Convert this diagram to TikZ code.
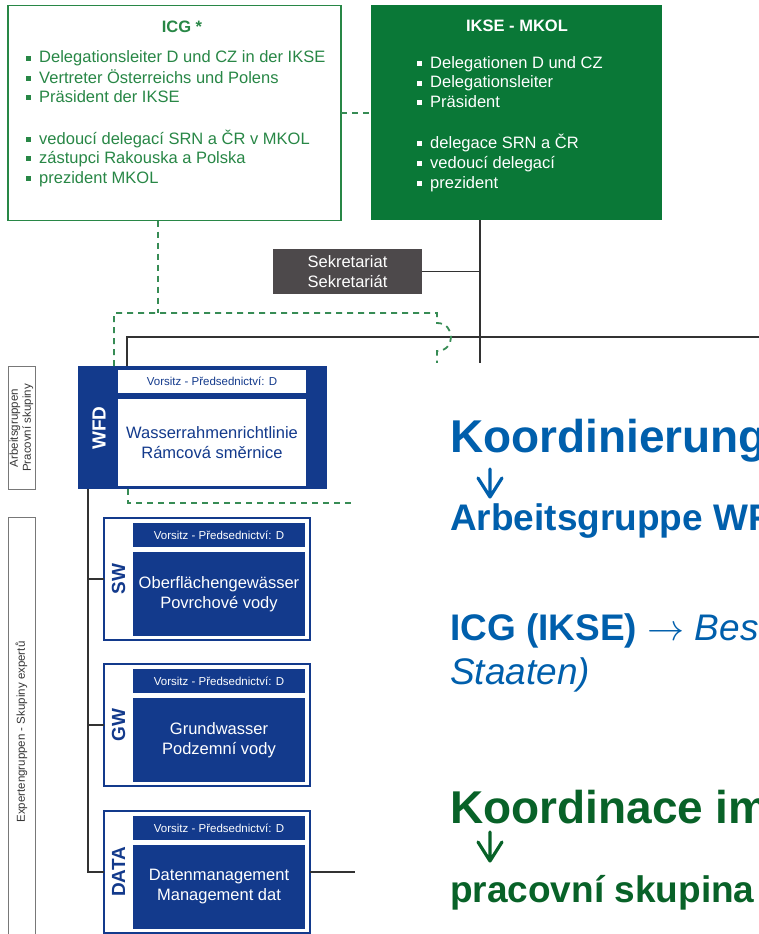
\documentclass[tikz,border=0pt]{standalone}
\usepackage{fix-cm}
\usepackage{fontspec}
\setmainfont{Liberation Sans}
\usetikzlibrary{positioning}

\definecolor{icggreen}{RGB}{40,135,70}
\definecolor{iksegreen}{RGB}{10,120,55}
\definecolor{dashgreen}{RGB}{55,140,85}
\definecolor{wgblue}{RGB}{19,58,140}
\definecolor{sekgray}{RGB}{77,73,75}
\definecolor{linegray}{RGB}{50,50,50}
\definecolor{lblgray}{RGB}{120,120,120}
\definecolor{lbltext}{RGB}{55,55,55}
\definecolor{txtblue}{RGB}{0,95,172}
\definecolor{txtgreen}{RGB}{8,98,40}

\newcommand\sqb{\rule[.14em]{.27em}{.27em}\hspace{.52em}}

\begin{document}
\begin{tikzpicture}[x=1pt,y=-1pt,
  box/.style={inner sep=0pt, outer sep=0pt},
  orgline/.style={draw=linegray, line width=1.4pt},
  icgline/.style={draw=dashgreen, line width=1.8pt, dash pattern=on 6pt off 5pt},
  listtxt/.style={anchor=base west, inner sep=0pt, font=\fontsize{16.5}{20}\selectfont},
  headtxt/.style={anchor=base, inner sep=0pt, font=\bfseries\fontsize{16.5}{20}\selectfont},
  grouplbl/.style={box, draw=lblgray, line width=0.8pt, rotate=90, align=center,
    text=lbltext, font=\fontsize{11.5}{13}\selectfont},
  chairbox/.style={box, minimum width=172, minimum height=24, font=\fontsize{11.5}{13}\selectfont},
  mainbox/.style={box, minimum width=172, minimum height=84, align=center,
    font=\fontsize{16.5}{20}\selectfont},
  sidelbl/.style={inner sep=0pt, rotate=90, font=\bfseries\fontsize{19}{20}\selectfont},
  bigtxt/.style={anchor=base west, inner sep=0pt, font=\bfseries\fontsize{46}{52}\selectfont},
  midtxt/.style={anchor=base west, inner sep=0pt, font=\fontsize{37}{44}\selectfont},
  downarr/.style={line width=3.2pt, line cap=round, line join=round}
]
\useasboundingbox (0,0) rectangle (759,934);
\clip (0,0) rectangle (759,934);
\fill[white] (0,0) rectangle (759,934);

% top boxes
\node[box, draw=icggreen, line width=1.5pt, fill=white, minimum width=333, minimum height=215] (icg) at (174.5,113) {};
\node[headtxt, text=icggreen] (icg-head) at (182,33) {ICG *};
\foreach \yy/\tx [count=\i] in {63/Delegationsleiter D und CZ in der IKSE, 83/Vertreter Österreichs und Polens,
    102/Präsident der IKSE, 144/vedoucí delegací SRN a ČR v MKOL, 163/zástupci Rakouska a Polska, 183/prezident MKOL}
  \node[listtxt, text=icggreen] (icg-\i) at (26,\yy) {\sqb\tx};

\node[box, fill=iksegreen, minimum width=291, minimum height=215] (ikse) at (516.5,112.5) {};
\node[headtxt, text=white] (ikse-head) at (517,32) {IKSE - MKOL};
\foreach \yy/\tx [count=\i] in {68/Delegationen D und CZ, 88/Delegationsleiter, 107/Präsident,
    148/delegace SRN a ČR, 168/vedoucí delegací, 188/prezident}
  \node[listtxt, text=white] (ikse-\i) at (417,\yy) {\sqb\tx};

\node[box, fill=sekgray, text=white, minimum width=149, minimum height=45, align=center,
  font=\fontsize{16.5}{20}\selectfont] (sek) at (347.5,271.5) {Sekretariat\\Sekretariát};

% group labels on the left
\node[grouplbl, minimum width=123, minimum height=27] (lbl-ag) at (21.5,428) {Arbeitsgruppen\\Pracovní skupiny};
\node[grouplbl, minimum width=430, minimum height=27] (lbl-eg) at (21.5,732) {Expertengruppen - Skupiny expertů};

% working group WFD
\node[box, fill=wgblue, minimum width=249, minimum height=123] (wfd) at (202.5,427.5) {};
\node[chairbox, fill=white, text=wgblue, minimum width=188, minimum height=23] (wfd-chair) at (212,381.5) {Vorsitz - Předsednictví: D};
\node[mainbox, fill=white, text=wgblue, minimum width=188, minimum height=87] (wfd-main) at (212,442.5) {Wasserrahmenrichtlinie\\Rámcová směrnice};
\node[sidelbl, text=white] (wfd-lbl) at (99,428) {WFD};

% expert groups
\foreach \nm/\tp/\lab/\ta/\tb in {sw/518/SW/Oberflächengewässer/Povrchové vody,
    gw/664/GW/Grundwasser/Podzemní vody, data/811/DATA/Datenmanagement/Management dat}{
  \node[box, draw=wgblue, line width=1.5pt, fill=white, minimum width=206, minimum height=122,
    anchor=north west] (\nm) at (104,\tp) {};
  \node[chairbox, fill=wgblue, text=white, anchor=north west] (\nm-chair) at (133,\tp+5) {Vorsitz - Předsednictví: D};
  \node[mainbox, fill=wgblue, text=white, anchor=north west] (\nm-main) at (133,\tp+34) {\ta\\\tb};
  \node[sidelbl, text=wgblue] (\nm-lbl) at (118.5,\tp+61) {\lab};
}

% solid lines
\coordinate (kt) at (480,370);
\coordinate (hj) at (127,337);
\coordinate (hr) at (780,337);
\coordinate (wt) at (88,872);
\coordinate (dx) at (400,872);
\draw[orgline] (ikse.south -| kt) -- (kt);
\draw[orgline] (sek.east) -- (sek.east -| kt);
\draw[orgline] (wfd.north -| hj) -- (hj) -- (hr);
\draw[orgline] (wfd.south -| wt) -- (wt) -- (data.west);
\draw[orgline] (sw.west -| wt) -- (sw.west);
\draw[orgline] (gw.west -| wt) -- (gw.west);
\draw[orgline] (data.east) -- (dx);

% dashed ICG lines
\coordinate (dj) at (158,313);
\coordinate (dl) at (114,313);
\coordinate (dr) at (437,313);
\coordinate (db) at (437,370);
\coordinate (wd) at (128,503);
\coordinate (wdr) at (400,503);
\draw[icgline] (icg.east) -- (icg.east -| ikse.west);
\draw[icgline] (icg.south -| dj) -- (dj);
\draw[icgline] (wfd.north -| dl) -- (dl) -- (dr) -- (437,323)
  .. controls (455.7,323) and (455.7,351) .. (437,351) -- (db);
\draw[icgline] (wfd.south -| wd) -- (wd) -- (wdr);

% overlay with notes
\fill[white] (355,363) rectangle (780,940);
\node[bigtxt, text=txtblue] (koord-de) at (450,452) {Koordinierung};
\draw[downarr, txtblue] (490,469) -- (490,497) (478,478) -- (490,497) -- (502,478);
\node[midtxt, text=txtblue] (ag-de) at (450,530) {\bfseries Arbeitsgruppe WF};
\node[midtxt, text=txtblue] (icg-note) at (450,640) {\bfseries ICG (IKSE) \mdseries$\rightarrow$ \itshape Bes};
\node[midtxt, text=txtblue] (icg-note2) at (450,684) {\itshape Staaten)};
\node[bigtxt, text=txtgreen] (koord-cz) at (450,823) {Koordinace im};
\draw[downarr, txtgreen] (490,832) -- (490,861) (478,842) -- (490,861) -- (502,842);
\node[midtxt, text=txtgreen] (ps-cz) at (450,902) {\bfseries pracovní skupina};
\end{tikzpicture}
\end{document}
